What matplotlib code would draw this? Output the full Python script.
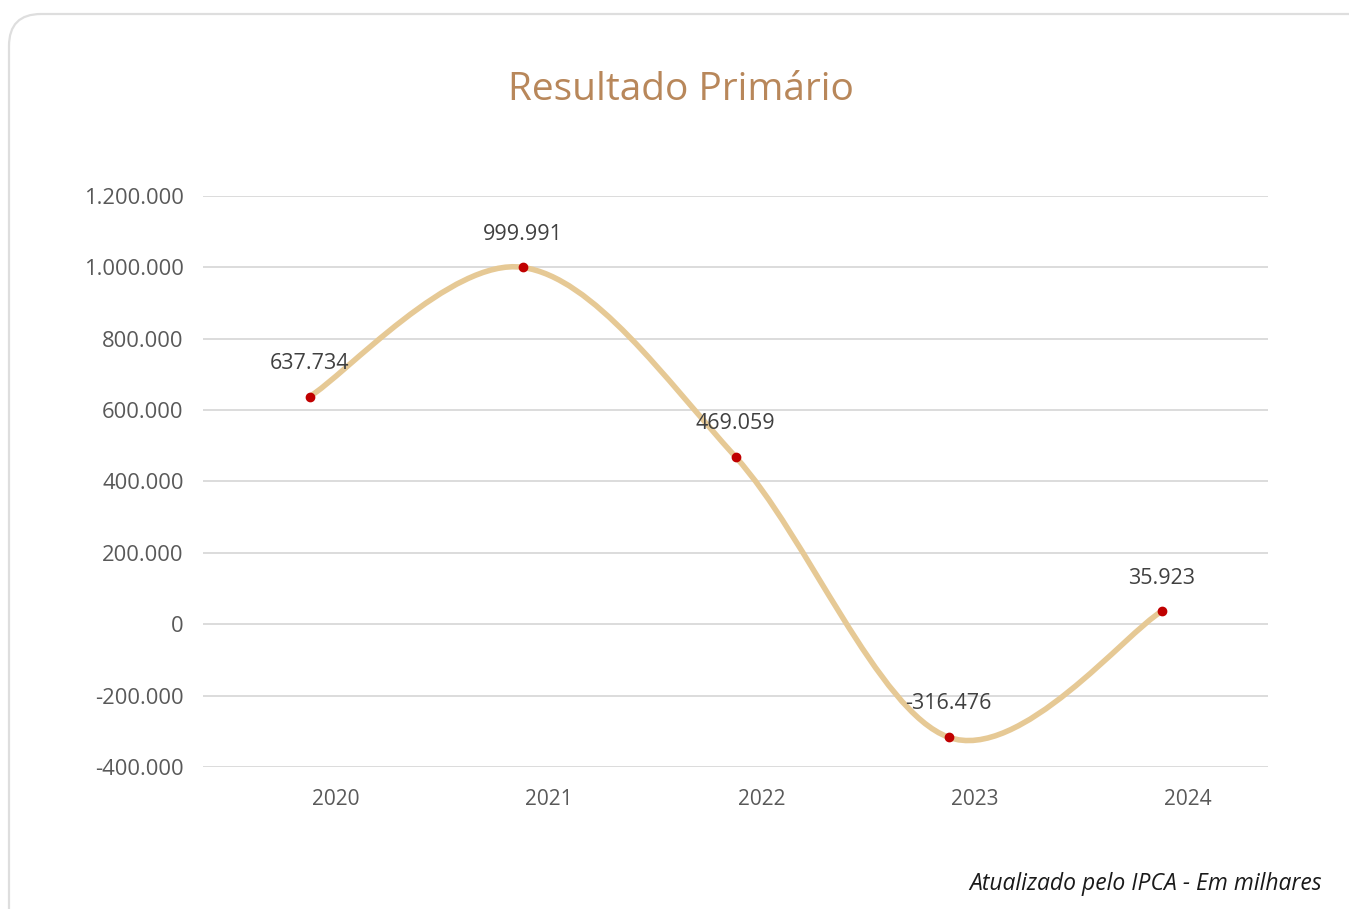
import matplotlib
matplotlib.use("Agg")
import matplotlib.pyplot as plt
import matplotlib.transforms as mtransforms
from matplotlib.patches import FancyBboxPatch, PathPatch
from matplotlib.path import Path
from matplotlib.ticker import FuncFormatter
import numpy as np

years = ["2020", "2021", "2022", "2023", "2024"]
values = [637734, 999991, 469059, -316476, 35923]
labels = ["637.734", "999.991", "469.059", "-316.476", "35.923"]
yticks = [-400000, -200000, 0, 200000, 400000, 600000, 800000, 1000000, 1200000]

fig = plt.figure(figsize=(13.49, 9.09), dpi=100)
fig.patch.set_facecolor("white")

# card background with rounded corners
card = FancyBboxPatch((0.09, -0.5), 14.0, 9.09 - 0.14 + 0.5,
                      boxstyle="round,pad=0,rounding_size=0.32",
                      transform=fig.dpi_scale_trans, facecolor="white",
                      edgecolor="#dedede", linewidth=1.6, zorder=-10)
fig.patches.append(card)

ax = fig.add_axes([0.1505, 0.1562, 0.7895, 0.6282])
ax.set_facecolor("none")
ax.set_xlim(-0.5, 4.5)
ax.set_ylim(-400000, 1200000)
ax.set_yticks(yticks)
ax.yaxis.set_major_formatter(FuncFormatter(lambda v, p: f"{int(v):,}".replace(",", ".")))
ax.set_xticks(range(len(years)))
ax.set_xticklabels(years)
ax.grid(axis="y", color="#d9d9d9", linewidth=1.3)
ax.set_axisbelow(True)
for s in ax.spines.values():
    s.set_visible(False)
ax.tick_params(axis="both", length=0, labelcolor="#595959", labelsize=15)
ax.tick_params(axis="y", pad=14, labelsize=15.8)
ax.tick_params(axis="x", pad=16)
for t in ax.get_yticklabels() + ax.get_xticklabels():
    t.set_fontfamily("Open Sans")
# x labels sit a bit to the right of the points
off = mtransforms.ScaledTranslation(0.26, 0, fig.dpi_scale_trans)
for t in ax.get_xticklabels():
    t.set_transform(t.get_transform() + off)

# smoothed line (bezier through the points)
x = np.arange(len(values), dtype=float)
y = np.array(values, dtype=float)
verts = [(x[0], y[0])]
codes = [Path.MOVETO]
for i in range(len(x) - 1):
    x0, y0 = (x[i - 1], y[i - 1]) if i > 0 else (x[i], y[i])
    x3, y3 = (x[i + 2], y[i + 2]) if i + 2 < len(x) else (x[i + 1], y[i + 1])
    c1 = (x[i] + (x[i + 1] - x0) / 6, y[i] + (y[i + 1] - y0) / 6)
    c2 = (x[i + 1] - (x3 - x[i]) / 6, y[i + 1] - (y3 - y[i]) / 6)
    verts += [c1, c2, (x[i + 1], y[i + 1])]
    codes += [Path.CURVE4] * 3
ax.add_patch(PathPatch(Path(verts, codes), facecolor="none",
                       edgecolor="#e6c995", linewidth=4, capstyle="round", zorder=2))
ax.plot(x, y, "o", color="#c00000", markersize=6, zorder=3)

for xi, yi, lab in zip(x, y, labels):
    ax.annotate(lab, (xi, yi), xytext=(0, 24), textcoords="offset points",
                ha="center", va="center", fontsize=15.5, color="#404040",
                family="Open Sans")

fig.text(0.505, 0.901, "Resultado Primário", ha="center", va="center",
         fontsize=28, color="#b8875a", family="Open Sans")
fig.text(0.980, 0.028, "Atualizado pelo IPCA - Em milhares", ha="right", va="center",
         fontsize=16.5, style="italic", color="#1a1a1a", family="Open Sans")

fig.savefig("out.png", dpi=100)
